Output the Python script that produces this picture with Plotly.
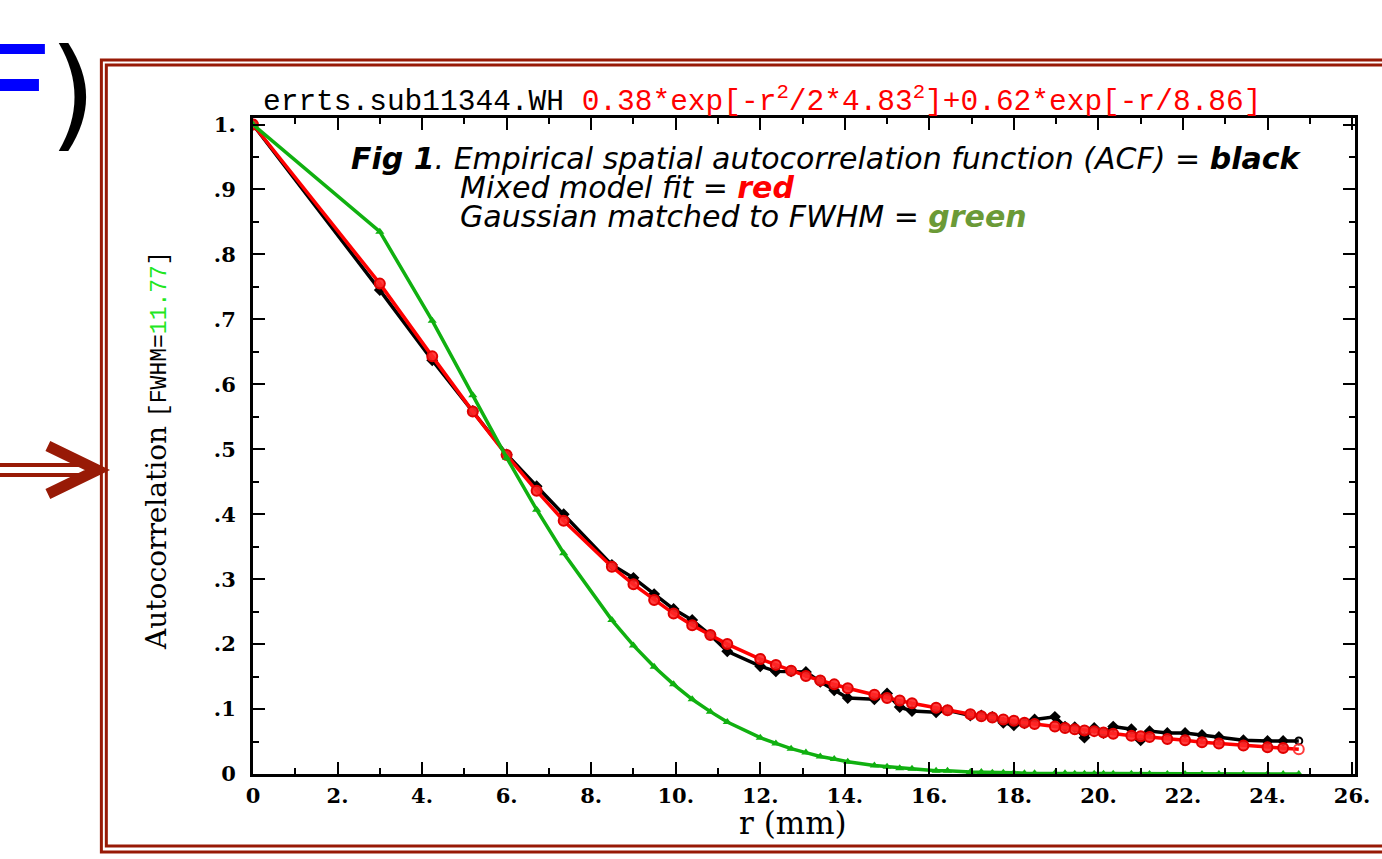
import plotly.graph_objects as go

# ---------------- data ----------------
r_mm = [0, 3.0, 4.24, 5.2, 6.0, 6.71, 7.35, 8.49, 9.0, 9.49, 9.95, 10.39, 10.82, 11.22,
        12.0, 12.37, 12.73, 13.08, 13.42, 13.75, 14.07, 14.7, 15.0, 15.3, 15.59, 16.16,
        16.43, 16.97, 17.23, 17.49, 17.75, 18.0, 18.25, 18.49, 18.97, 19.21, 19.44, 19.67,
        19.9, 20.12, 20.35, 20.78, 21.0, 21.21, 21.63, 22.05, 22.45, 22.85, 23.43, 24.0,
        24.37, 24.74]

acf_empirical = [1.0, 0.745, 0.637, 0.559, 0.492, 0.443, 0.400, 0.322, 0.302, 0.277, 0.254,
                 0.237, 0.214, 0.189, 0.166, 0.158, 0.158, 0.157, 0.142, 0.129, 0.117, 0.115,
                 0.124, 0.103, 0.097, 0.095, 0.098, 0.090, 0.090, 0.088, 0.079, 0.075, 0.078,
                 0.084, 0.088, 0.073, 0.072, 0.056, 0.071, 0.063, 0.073, 0.069, 0.052, 0.066,
                 0.063, 0.063, 0.060, 0.057, 0.052, 0.051, 0.051, 0.051]

acf_mixed_fit = [1.0, 0.755, 0.643, 0.558, 0.491, 0.436, 0.390, 0.319, 0.292, 0.268, 0.247,
                 0.229, 0.214, 0.200, 0.177, 0.168, 0.159, 0.151, 0.144, 0.138, 0.132, 0.122,
                 0.117, 0.113, 0.109, 0.102, 0.098, 0.092, 0.089, 0.087, 0.084, 0.082, 0.079,
                 0.077, 0.073, 0.071, 0.069, 0.067, 0.066, 0.064, 0.062, 0.059, 0.058, 0.057,
                 0.054, 0.052, 0.049, 0.047, 0.044, 0.041, 0.040, 0.038]

acf_gaussian = [1.0, 0.835, 0.698, 0.583, 0.487, 0.407, 0.340, 0.237, 0.198, 0.165, 0.138,
                0.115, 0.096, 0.080, 0.056, 0.047, 0.039, 0.033, 0.027, 0.023, 0.019, 0.013,
                0.011, 0.009, 0.008, 0.005, 0.005, 0.003, 0.003, 0.002, 0.002, 0.002, 0.001,
                0.001, 0.001, 0.001, 0.0005, 0.0004, 0.0004, 0.0003, 0.0002, 0.0002, 0.0001,
                0.0001, 0.0001, 0.0, 0.0, 0.0, 0.0, 0.0, 0.0, 0.0]

x_tick_vals = [0, 2, 4, 6, 8, 10, 12, 14, 16, 18, 20, 22, 24, 26]
x_tick_text = ["0", "2.", "4.", "6.", "8.", "10.", "12.", "14.", "16.", "18.", "20.",
               "22.", "24.", "26."]
y_tick_vals = [0, 0.1, 0.2, 0.3, 0.4, 0.5, 0.6, 0.7, 0.8, 0.9, 1.0]
y_tick_text = ["0", ".1", ".2", ".3", ".4", ".5", ".6", ".7", ".8", ".9", "1."]

# ---------------- layout helpers ----------------
FIG_W, FIG_H = 1382, 859
L, R, T, B = 253, 1365, 118, 774
PW, PH = R - L, B - T


def px(x):
    return (x - L) / PW


def py(y):
    return (B - y) / PH


DARKRED = "#981a06"
n = len(r_mm)

fig = go.Figure()

fig.add_trace(go.Scatter(
    x=r_mm, y=acf_empirical, mode="lines+markers",
    line=dict(color="black", width=3.5),
    marker=dict(symbol=["diamond"] * (n - 1) + ["circle-open"], size=7, color="black",
                line=dict(color="black", width=2)),
    showlegend=False))

fig.add_trace(go.Scatter(
    x=r_mm, y=acf_mixed_fit, mode="lines+markers",
    line=dict(color="#ff0000", width=3.5),
    marker=dict(symbol=["circle"] * (n - 1) + ["circle-open"], size=10,
                color="rgba(255,40,40,0.9)", line=dict(color="#e00000", width=2)),
    showlegend=False))

fig.add_trace(go.Scatter(
    x=r_mm, y=acf_gaussian, mode="lines+markers",
    line=dict(color="#10b010", width=3.5),
    marker=dict(symbol="triangle-up", size=8, color="#10b010"),
    showlegend=False))

tickfont = dict(family="DejaVu Serif", size=21, color="black", weight="bold")

fig.update_xaxes(
    range=[0, 26.07], showline=True, linewidth=3, linecolor="black", mirror="ticks",
    ticks="inside", ticklen=12, tickwidth=2, tickcolor="black",
    tickmode="array", tickvals=x_tick_vals, ticktext=x_tick_text,
    minor=dict(tickmode="linear", tick0=0, dtick=1, ticks="inside", ticklen=6,
               tickwidth=2, tickcolor="black"),
    showgrid=False, zeroline=False, tickfont=tickfont, ticklabelstandoff=1)

fig.update_yaxes(
    range=[0, 1.01], showline=True, linewidth=3, linecolor="black", mirror="ticks",
    ticks="inside", ticklen=12, tickwidth=2, tickcolor="black",
    tickmode="array", tickvals=y_tick_vals, ticktext=y_tick_text,
    minor=dict(tickmode="linear", tick0=0, dtick=0.05, ticks="inside", ticklen=6,
               tickwidth=2, tickcolor="black"),
    showgrid=False, zeroline=False, tickfont=tickfont, ticklabelstandoff=10)

ann = []
# title
ann.append(dict(
    x=px(261), y=py(100), xref="paper", yref="paper", xanchor="left", yanchor="middle",
    showarrow=False,
    text=("errts.sub11344.WH <span style='color:#ff0000'>0.38*exp[-r<sup>2</sup>/2*4.83"
          "<sup>2</sup>]+0.62*exp[-r/8.86]</span>"),
    font=dict(family="Liberation Mono", size=29.5, color="black")))
# legend text lines
legfont = dict(family="DejaVu Sans", size=30, color="black")
ann.append(dict(
    x=px(350), y=py(158), xref="paper", yref="paper", xanchor="left", yanchor="middle",
    showarrow=False, font=legfont,
    text="<b><i>Fig 1</i></b><i>. Empirical spatial autocorrelation function (ACF) = </i><b><i>black</i></b>"))
ann.append(dict(
    x=px(460), y=py(187), xref="paper", yref="paper", xanchor="left", yanchor="middle",
    showarrow=False, font=legfont,
    text="<i>Mixed model fit = </i><b><i><span style='color:#ff0000'>red</span></i></b>"))
ann.append(dict(
    x=px(460), y=py(216), xref="paper", yref="paper", xanchor="left", yanchor="middle",
    showarrow=False, font=legfont,
    text="<i>Gaussian matched to FWHM = </i><b><i><span style='color:#6b9a37'>green</span></i></b>"))
# y axis title
ann.append(dict(
    x=px(155), y=py(450), xref="paper", yref="paper", xanchor="center", yanchor="middle",
    showarrow=False, textangle=-90,
    text=("Autocorrelation <span style='font-family:Liberation Mono;font-size:23px'>"
          "[FWHM=<span style='color:#22e622'>11.77</span>]</span>"),
    font=dict(family="DejaVu Serif", size=28, color="black")))
# x axis title
ann.append(dict(
    x=px(798), y=py(823), xref="paper", yref="paper", xanchor="center", yanchor="middle",
    showarrow=False, text="r (mm)",
    font=dict(family="DejaVu Serif", size=31, color="black")))
# decorative ")" from the slide
ann.append(dict(
    x=px(71), y=py(93), xref="paper", yref="paper", xanchor="center", yanchor="middle",
    showarrow=False, text=")",
    font=dict(family="DejaVu Sans", size=122, color="black")))

shapes = []
# double border
shapes.append(dict(type="rect", xref="paper", yref="paper",
                   x0=px(100), x1=px(1420), y0=py(852), y1=py(60),
                   line=dict(color=DARKRED, width=3)))
shapes.append(dict(type="rect", xref="paper", yref="paper",
                   x0=px(105), x1=px(1415), y0=py(846), y1=py(65),
                   line=dict(color=DARKRED, width=3)))
# blue "=" fragments
shapes.append(dict(type="rect", xref="paper", yref="paper",
                   x0=px(-5), x1=px(43), y0=py(54), y1=py(44),
                   line=dict(width=0), fillcolor="#0000ff"))
shapes.append(dict(type="rect", xref="paper", yref="paper",
                   x0=px(-5), x1=px(37), y0=py(91), y1=py(79),
                   line=dict(width=0), fillcolor="#0000ff"))
# double arrow
for yy in (465, 475):
    shapes.append(dict(type="line", xref="paper", yref="paper",
                       x0=px(-5), x1=px(88), y0=py(yy), y1=py(yy),
                       line=dict(color=DARKRED, width=4)))
shapes.append(dict(type="path", xref="paper", yref="paper",
                   path=f"M {px(46)},{py(446)} L {px(96)},{py(470)} L {px(46)},{py(494)}",
                   line=dict(color=DARKRED, width=11)))

fig.update_layout(
    width=FIG_W, height=FIG_H,
    margin=dict(l=L, r=FIG_W - R, t=T, b=FIG_H - B, pad=0),
    paper_bgcolor="white", plot_bgcolor="white",
    annotations=ann, shapes=shapes, showlegend=False)

fig.write_html("out.html")
